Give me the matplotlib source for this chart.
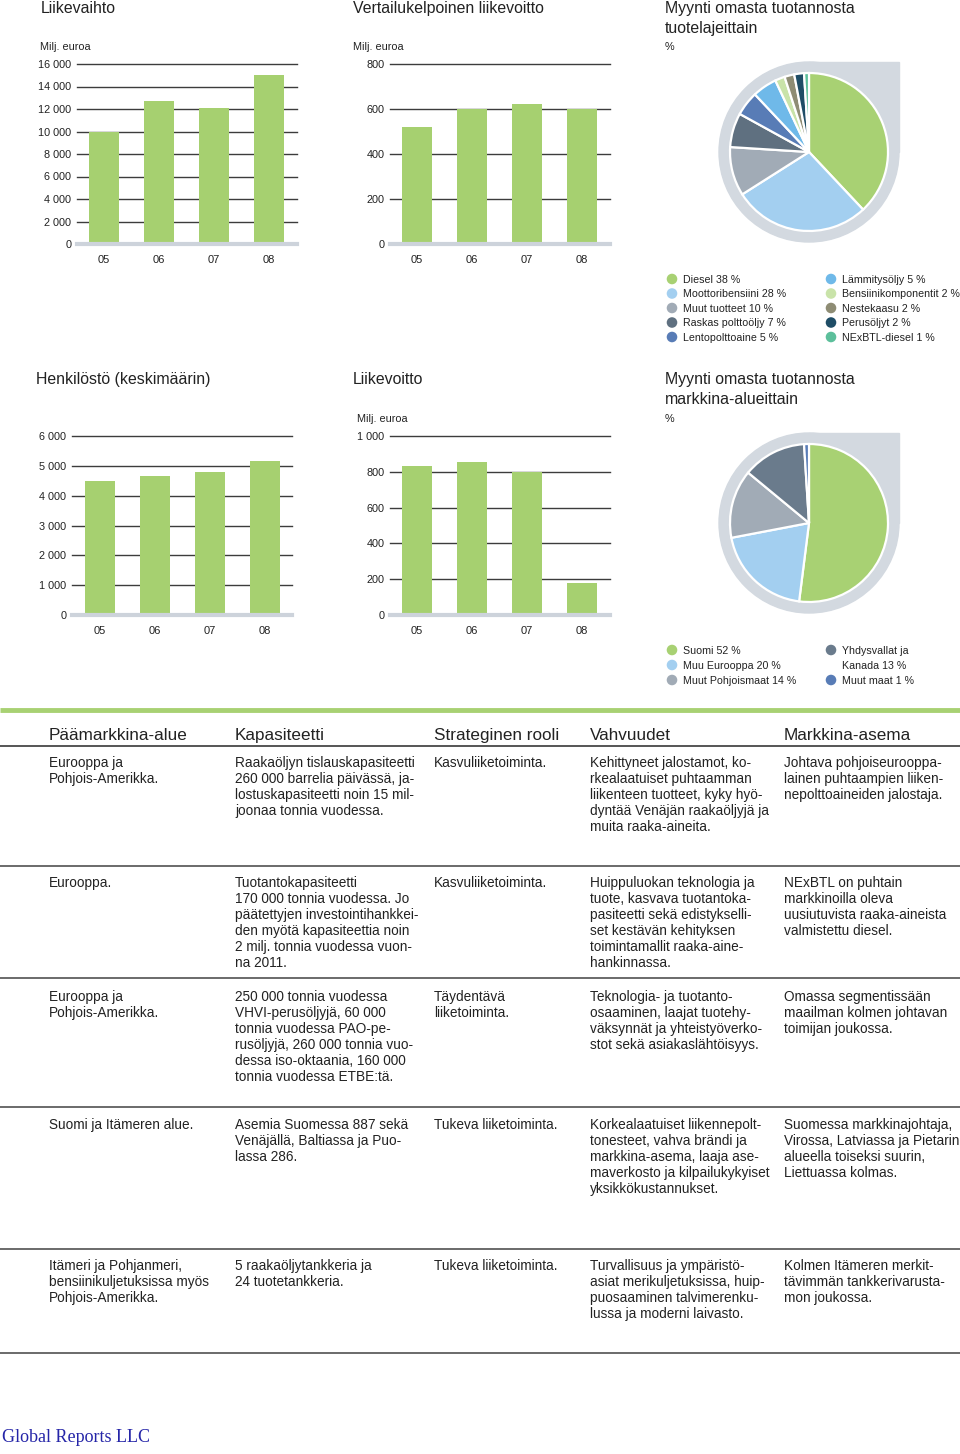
import matplotlib
matplotlib.use("Agg")
import matplotlib.pyplot as plt
from matplotlib.patches import Circle, Rectangle

plt.rcParams['font.family'] = ['Liberation Sans', 'DejaVu Sans']

W, H = 960, 1454

# ---------------- data ----------------
years = ['05', '06', '07', '08']

liikevaihto = [9974, 12734, 12103, 15043]
liikevaihto_ticks = [0, 2000, 4000, 6000, 8000, 10000, 12000, 14000, 16000]
liikevaihto_labels = ['0', '2 000', '4 000', '6 000', '8 000', '10 000', '12 000', '14 000', '16 000']

vert_liikevoitto = [522, 598, 624, 601]
vert_ticks = [0, 200, 400, 600, 800]
vert_labels = ['0', '200', '400', '600', '800']

henkilosto = [4500, 4660, 4790, 5170]
henk_ticks = [0, 1000, 2000, 3000, 4000, 5000, 6000]
henk_labels = ['0', '1 000', '2 000', '3 000', '4 000', '5 000', '6 000']

liikevoitto = [831, 853, 800, 176]
lv_ticks = [0, 200, 400, 600, 800, 1000]
lv_labels = ['0', '200', '400', '600', '800', '1 000']

products = ['Diesel 38 %', 'Moottoribensiini 28 %', 'Muut tuotteet 10 %', 'Raskas polttoöljy 7 %',
            'Lentopolttoaine 5 %', 'Lämmitysöljy 5 %', 'Bensiinikomponentit 2 %', 'Nestekaasu 2 %',
            'Perusöljyt 2 %', 'NExBTL-diesel 1 %']
product_shares = [38, 28, 10, 7, 5, 5, 2, 2, 2, 1]
product_colors = ['#a8d173', '#a3cff0', '#a1abb6', '#5f7080', '#587cb6', '#6fb9e9',
                  '#c9e3a9', '#8e8c74', '#1f4d66', '#5cbf9b']

markets = ['Suomi 52 %', 'Muu Eurooppa 20 %', 'Muut Pohjoismaat 14 %', 'Yhdysvallat ja\nKanada 13 %', 'Muut maat 1 %']
market_shares = [52, 20, 14, 13, 1]
market_colors = ['#a8d173', '#a3cff0', '#a1abb6', '#6a7b8c', '#587cb6']

table_headers = ['Päämarkkina-alue', 'Kapasiteetti', 'Strateginen rooli', 'Vahvuudet', 'Markkina-asema']
table_rows = [
    ["Eurooppa ja\nPohjois-Amerikka.",
     "Raakaöljyn tislauskapasiteetti\n260 000 barrelia päivässä, ja-\nlostuskapasiteetti noin 15 mil-\njoonaa tonnia vuodessa.",
     "Kasvuliiketoiminta.",
     "Kehittyneet jalostamot, ko-\nrkealaatuiset puhtaamman\nliikenteen tuotteet, kyky hyö-\ndyntää Venäjän raakaöljyjä ja\nmuita raaka-aineita.",
     "Johtava pohjoiseurooppa-\nlainen puhtaampien liiken-\nnepolttoaineiden jalostaja."],
    ["Eurooppa.",
     "Tuotantokapasiteetti\n170 000 tonnia vuodessa. Jo\npäätettyjen investointihankkei-\nden myötä kapasiteettia noin\n2 milj. tonnia vuodessa vuon-\nna 2011.",
     "Kasvuliiketoiminta.",
     "Huippuluokan teknologia ja\ntuote, kasvava tuotantoka-\npasiteetti sekä edistykselli-\nset kestävän kehityksen\ntoimintamallit raaka-aine-\nhankinnassa.",
     "NExBTL on puhtain\nmarkkinoilla oleva\nuusiutuvista raaka-aineista\nvalmistettu diesel."],
    ["Eurooppa ja\nPohjois-Amerikka.",
     "250 000 tonnia vuodessa\nVHVI-perusöljyjä, 60 000\ntonnia vuodessa PAO-pe-\nrusöljyjä, 260 000 tonnia vuo-\ndessa iso-oktaania, 160 000\ntonnia vuodessa ETBE:tä.",
     "Täydentävä\nliiketoiminta.",
     "Teknologia- ja tuotanto-\nosaaminen, laajat tuotehy-\nväksynnät ja yhteistyöverko-\nstot sekä asiakaslähtöisyys.",
     "Omassa segmentissään\nmaailman kolmen johtavan\ntoimijan joukossa."],
    ["Suomi ja Itämeren alue.",
     "Asemia Suomessa 887 sekä\nVenäjällä, Baltiassa ja Puo-\nlassa 286.",
     "Tukeva liiketoiminta.",
     "Korkealaatuiset liikennepolt-\ntonesteet, vahva brändi ja\nmarkkina-asema, laaja ase-\nmaverkosto ja kilpailukykyiset\nyksikkökustannukset.",
     "Suomessa markkinajohtaja,\nVirossa, Latviassa ja Pietarin\nalueella toiseksi suurin,\nLiettuassa kolmas."],
    ["Itämeri ja Pohjanmeri,\nbensiinikuljetuksissa myös\nPohjois-Amerikka.",
     "5 raakaöljytankkeria ja\n24 tuotetankkeria.",
     "Tukeva liiketoiminta.",
     "Turvallisuus ja ympäristö-\nasiat merikuljetuksissa, huip-\npuosaaminen talvimerenku-\nlussa ja moderni laivasto.",
     "Kolmen Itämeren merkit-\ntävimmän tankkerivarusta-\nmon joukossa."],
]

# ---------------- style ----------------
GREEN = '#a6d070'
GRID = '#3c3c3c'
BASE = '#cdd3db'
TXT = '#222222'
BG_PIE = '#d3d9e0'

fig = plt.figure(figsize=(W / 100, H / 100), dpi=100)
ov = fig.add_axes([0, 0, 1, 1])
ov.set_xlim(0, W)
ov.set_ylim(H, 0)
ov.axis('off')


def px_axes(x0, y0, x1, y1):
    return fig.add_axes([x0 / W, 1 - y1 / H, (x1 - x0) / W, (y1 - y0) / H])


def bar_chart(x0, x1, ytop, ybot, values, ticks, labels, first_offset=27.0, spacing=55.0, bw=30.0):
    ax = px_axes(x0, ytop, x1, ybot)
    width = x1 - x0
    lo = -first_offset / spacing
    hi = lo + width / spacing
    ax.set_xlim(lo, hi)
    ax.set_ylim(ticks[0], ticks[-1])
    ax.bar(range(len(values)), values, width=bw / spacing, color=GREEN, zorder=2)
    ax.set_yticks(ticks)
    ax.set_yticklabels(labels)
    ax.set_xticks(range(len(years)))
    ax.set_xticklabels(years)
    ax.tick_params(axis='y', length=0, pad=4, labelsize=7.8, labelcolor=TXT)
    ax.tick_params(axis='x', length=0, pad=8, labelsize=8, labelcolor=TXT)
    for s in ax.spines.values():
        s.set_visible(False)
    for t in ticks[1:]:
        ax.axhline(t, color=GRID, lw=1.0, zorder=1, clip_on=False)
    ax.axhline(ticks[0], color=BASE, lw=3.0, zorder=3, clip_on=False)
    ax.patch.set_alpha(0)
    return ax


bar_chart(77, 297, 64, 244, liikevaihto, liikevaihto_ticks, liikevaihto_labels)
bar_chart(390, 610, 64, 244, vert_liikevoitto, vert_ticks, vert_labels, first_offset=26.5)
bar_chart(72, 292, 436, 615, henkilosto, henk_ticks, henk_labels, first_offset=27.5)
bar_chart(390, 610, 436, 615, liikevoitto, lv_ticks, lv_labels, first_offset=26.5)


def pie_chart(cx, cy, values, colors):
    half = 100
    ax = px_axes(cx - half, cy - half, cx + half, cy + half)
    R = 90
    ax.add_patch(Circle((0, 0), R, color=BG_PIE, zorder=0))
    ax.add_patch(Rectangle((0, 0), R, R, color=BG_PIE, zorder=0))
    ax.pie(values, colors=colors, radius=79, startangle=90, counterclock=False,
           wedgeprops=dict(edgecolor='white', linewidth=1.6), frame=True)
    ax.set_xlim(-half, half)
    ax.set_ylim(-half, half)
    ax.set_aspect('equal')
    ax.axis('off')
    return ax


pie_chart(809, 152, product_shares, product_colors)
pie_chart(809, 523, market_shares, market_colors)


def line_text(x, yc, s, fs, **kw):
    # place text by baseline so that line positions are consistent
    ov.text(x, yc + fs * 0.5, s, fontsize=fs, color=TXT, va='baseline', ha='left', **kw)


# ---------------- titles ----------------
tfs = 11.4
line_text(41, 7, 'Liikevaihto', tfs)
line_text(353, 7, 'Vertailukelpoinen liikevoitto', tfs)
line_text(665, 7, 'Myynti omasta tuotannosta', tfs)
line_text(665, 27, 'tuotelajeittain', tfs)
line_text(40, 46, 'Milj. euroa', 7.8)
line_text(353, 46, 'Milj. euroa', 7.8)
line_text(665, 46, '%', 7.8)

line_text(36, 378, 'Henkilöstö (keskimäärin)', tfs)
line_text(353, 378, 'Liikevoitto', tfs)
line_text(665, 378, 'Myynti omasta tuotannosta', tfs)
line_text(665, 398, 'markkina-alueittain', tfs)
line_text(357, 418, 'Milj. euroa', 7.8)
line_text(665, 418, '%', 7.8)

# ---------------- legends ----------------
lfs = 7.7
for i, (lab, col) in enumerate(zip(products, product_colors)):
    colx = 672 if i < 5 else 831
    y = 279 + 14.5 * (i % 5)
    ov.scatter([colx], [y], s=58, color=col, edgecolors='none')
    line_text(colx + 11, y, lab, lfs)

market_pos = [(672, 650), (672, 665), (672, 680), (831, 650), (831, 680)]
for lab, col, (mx, my) in zip(markets, market_colors, market_pos):
    ov.scatter([mx], [my], s=58, color=col, edgecolors='none')
    for j, line in enumerate(lab.split('\n')):
        line_text(mx + 11, my + 15 * j, line, lfs)

# ---------------- table ----------------
col_x = [49, 235, 434, 590, 784]
ov.plot([0, W], [710, 710], color='#a8d173', lw=3.5, solid_capstyle='butt')
for hx, h in zip(col_x, table_headers):
    line_text(hx, 734, h, 12.3)
ov.plot([0, W], [746, 746], color='#555555', lw=1.4)

row_start = [762, 882, 996, 1124, 1265]
row_lines = [866, 978, 1107, 1249, 1353]
for r, cells in enumerate(table_rows):
    for cx, cell in zip(col_x, cells):
        for j, line in enumerate(cell.split('\n')):
            line_text(cx, row_start[r] + 16 * j, line, 9.8)
    ov.plot([0, W], [row_lines[r], row_lines[r]], color='#6a6a6a', lw=1.4)

ov.text(2, 1438, 'Global Reports LLC', fontsize=13, color='#2525a8', va='center', ha='left',
        family=['Liberation Serif', 'DejaVu Serif'])

fig.savefig('out.png', dpi=100)
